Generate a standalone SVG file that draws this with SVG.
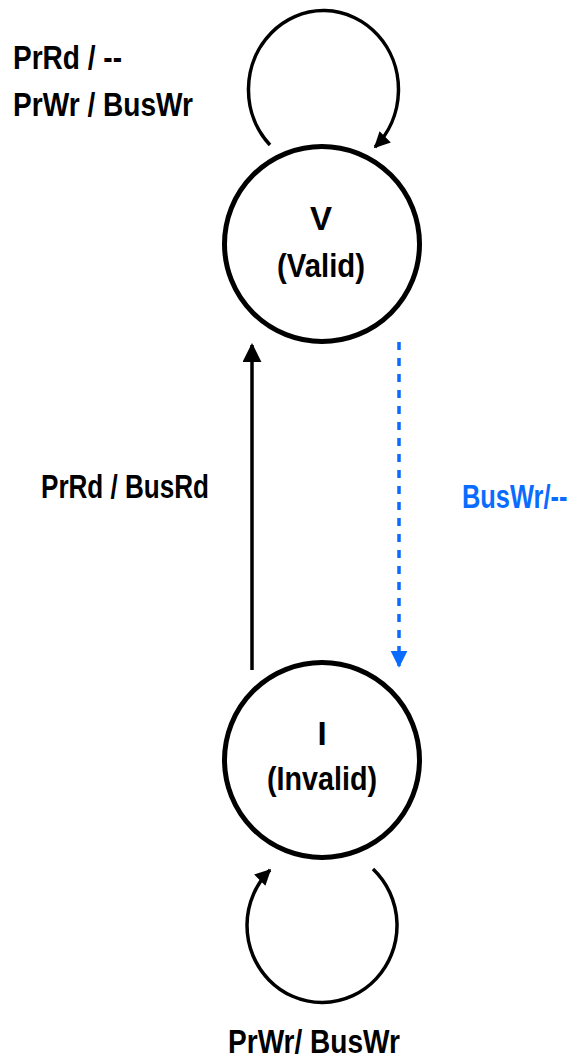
<svg xmlns="http://www.w3.org/2000/svg" width="574" height="1059" viewBox="0 0 574 1059">
<style>
.lbl{font-family:"Liberation Sans Narrow","Liberation Sans",Arial,sans-serif;font-weight:bold;font-size:33px;fill:#000}
.blue{fill:#0A6CFF}
.state{fill:#fff;stroke:#000;stroke-width:5}
.edge{fill:none;stroke:#000;stroke-width:3.5}
.dash{fill:none;stroke:#0A6CFF;stroke-width:3.5;stroke-dasharray:8 8}
</style>
<defs>
<marker id="ah" viewBox="0 0 20 20" refX="18" refY="10" markerWidth="19" markerHeight="19" markerUnits="userSpaceOnUse" orient="auto">
<path d="M0,0 L20,10 L0,20 z" fill="#000"/>
</marker>
<marker id="ahs" viewBox="0 0 20 20" refX="18" refY="10" markerWidth="17" markerHeight="16" markerUnits="userSpaceOnUse" orient="auto">
<path d="M0,0 L20,10 L0,20 z" fill="#000"/>
</marker>
<marker id="ahb" viewBox="0 0 20 20" refX="18" refY="10" markerWidth="17" markerHeight="19" markerUnits="userSpaceOnUse" orient="auto">
<path d="M0,0 L20,10 L0,20 z" fill="#0A6CFF"/>
</marker>
</defs>
<g id="connectors">
<path class="edge" d="M270,145 A75,79 0 1 1 375,147" marker-end="url(#ahs)"/>
<path class="edge" d="M373,869 A75,77 0 1 1 270,870" marker-end="url(#ahs)"/>
<line class="edge" x1="252" y1="670" x2="252" y2="345" marker-end="url(#ah)"/>
<line class="dash" x1="399" y1="342" x2="399" y2="666" marker-end="url(#ahb)"/>
<text class="lbl" x="13" y="69" textLength="109" lengthAdjust="spacingAndGlyphs">PrRd / --</text>
<text class="lbl" x="13" y="116" textLength="180" lengthAdjust="spacingAndGlyphs">PrWr / BusWr</text>
<text class="lbl" x="41" y="498" textLength="168" lengthAdjust="spacingAndGlyphs">PrRd / BusRd</text>
<text class="lbl blue" transform="translate(462,508) scale(0.77,1)">BusWr/--</text>
<text class="lbl" x="228" y="1053" textLength="172" lengthAdjust="spacingAndGlyphs">PrWr/ BusWr</text>
</g>
<g id="node-V">
<circle class="state" cx="322" cy="244" r="97.5"/>
<text class="lbl" x="321" y="230" text-anchor="middle" font-size="34">V</text>
<text class="lbl" x="321" y="277" text-anchor="middle" textLength="88" lengthAdjust="spacingAndGlyphs">(Valid)</text>
</g>
<g id="node-I">
<circle class="state" cx="322" cy="760" r="97.5"/>
<text class="lbl" x="322" y="745" text-anchor="middle" font-size="34">I</text>
<text class="lbl" x="322" y="790" text-anchor="middle" textLength="110" lengthAdjust="spacingAndGlyphs">(Invalid)</text>
</g>
</svg>
